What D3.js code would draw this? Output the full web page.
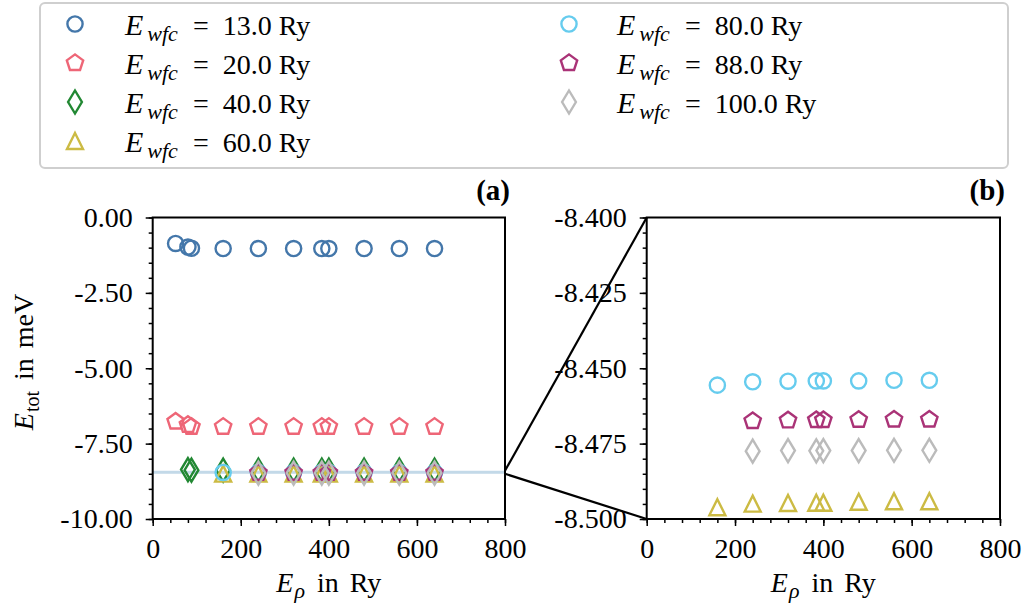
<!DOCTYPE html>
<html><head><meta charset="utf-8">
<script src="https://cdn.jsdelivr.net/npm/d3@7"></script>
<style>
body{margin:0;background:#fff}
svg{display:block}
text{font-family:"Liberation Serif","DejaVu Serif",serif;fill:#000}
</style>
</head><body>
<svg id="chart" width="1026" height="607"></svg>
<script>
// ---------------- data ----------------
const ewfcLabels = ["13.0","20.0","40.0","60.0","80.0","88.0","100.0"];
const seriesColors = ["#4477AA","#EE6677","#228833","#CCBB44","#66CCEE","#AA3377","#BBBBBB"];
const seriesMarkers = ["circle","pentagon","diamond","triangle","circle","pentagon","diamond"];

const x13  = [52,80,88,160,240,320,384,400,480,560,640];
const y13  = [-0.86,-0.98,-1.02,-1.03,-1.03,-1.03,-1.03,-1.03,-1.03,-1.03,-1.03];
const x20  = [52,80,88,160,240,320,384,400,480,560,640];
const y20  = [-6.77,-6.88,-6.94,-6.94,-6.94,-6.94,-6.94,-6.94,-6.94,-6.94,-6.94];
const x40  = [80,88,160,240,320,384,400,480,560,640];
const y40  = [-8.36,-8.38,-8.38,-8.38,-8.38,-8.38,-8.38,-8.38,-8.38,-8.38];
const x60  = [160,240,320,384,400,480,560,640];
const y60  = [-8.4961,-8.4949,-8.4947,-8.4946,-8.4946,-8.4943,-8.4941,-8.4941];
const x80  = [160,240,320,384,400,480,560,640];
const y80  = [-8.4556,-8.4545,-8.4543,-8.4542,-8.4542,-8.4542,-8.4540,-8.4540];
const x88  = [240,320,384,400,480,560,640];
const y88  = [-8.4675,-8.4673,-8.4672,-8.4672,-8.4671,-8.4670,-8.4670];
const x100 = [240,320,384,400,480,560,640];
const y100 = [-8.4775,-8.4773,-8.4774,-8.4773,-8.4773,-8.4772,-8.4772];

const seriesX = [x13,x20,x40,x60,x80,x88,x100];
const seriesY = [y13,y20,y40,y60,y80,y88,y100];

const xTicks = [0,200,400,600,800];
const yTicksA = [0,-2.5,-5,-7.5,-10];
const yTicksB = [-8.4,-8.425,-8.45,-8.475,-8.5];
const zoomRange = [-8.5,-8.4];

// ---------------- setup ----------------
const svg = d3.select("#chart");
const FS = 28;

function markerPath(type){
  if(type==="circle"){ const p=d3.path(); p.arc(0,0,7.6,0,2*Math.PI); p.closePath(); return p.toString(); }
  if(type==="pentagon"){ const R=8.6; const pts=d3.range(5).map(k=>{const a=(-90+72*k)*Math.PI/180;return [R*Math.cos(a),R*Math.sin(a)];}); return "M"+pts.map(p=>p.join(",")).join("L")+"Z"; }
  if(type==="triangle"){ const s=8; return `M0,${-s}L${s},${s}L${-s},${s}Z`; }
  if(type==="diamond"){ const h=11.5,w=6.9; return `M0,${-h}L${w},0L0,${h}L${-w},0Z`; }
}

const panels = [
  {x:d3.scaleLinear([0,800],[152.7,505]), y:d3.scaleLinear([-10,0],[519,217.5]), yt:yTicksA, fmt:d=>d.toFixed(2), minorY:d3.range(0,-10.0001,-0.5), label:"(a)"},
  {x:d3.scaleLinear([0,800],[646.7,1000]), y:d3.scaleLinear([-8.5,-8.4],[519,217.5]), yt:yTicksB, fmt:d=>d.toFixed(3), minorY:d3.range(-8.4,-8.50001,-0.005), label:"(b)"}
];
const minorX = d3.range(0,800.1,40);

panels.forEach((P,pi)=>{
  const g = svg.append("g");
  const [x0,x1]=P.x.range(), [yb,yt]=P.y.range();
  // inset band in panel (a)
  if(pi===0){
    g.append("rect").attr("x",x0).attr("width",x1-x0)
      .attr("y",P.y(zoomRange[1])).attr("height",P.y(zoomRange[0])-P.y(zoomRange[1]))
      .attr("fill","#c3d9e8");
  }
  // markers
  const clipId="clip"+pi;
  svg.append("clipPath").attr("id",clipId).append("rect").attr("x",x0).attr("y",yt).attr("width",x1-x0).attr("height",yb-yt);
  const mg = g.append("g").attr("clip-path",`url(#${clipId})`);
  seriesX.forEach((xs,si)=>{
    const pts = xs.map((xv,i)=>[xv,seriesY[si][i]]);
    mg.selectAll(null).data(pts).enter().append("path")
      .attr("d",markerPath(seriesMarkers[si]))
      .attr("transform",d=>`translate(${P.x(d[0])},${P.y(d[1])})`)
      .attr("fill","none").attr("stroke",seriesColors[si]).attr("stroke-width",2.4);
  });
  // axes
  const ax = g.append("g").attr("transform",`translate(0,${yb})`)
    .call(d3.axisBottom(P.x).tickValues(xTicks).tickSize(7).tickPadding(12).tickFormat(d3.format("d")));
  const axm = g.append("g").attr("transform",`translate(0,${yb})`)
    .call(d3.axisBottom(P.x).tickValues(minorX).tickSize(4).tickFormat(""));
  const ay = g.append("g").attr("transform",`translate(${x0},0)`)
    .call(d3.axisLeft(P.y).tickValues(P.yt).tickSize(7).tickPadding(13).tickFormat(P.fmt));
  const aym = g.append("g").attr("transform",`translate(${x0},0)`)
    .call(d3.axisLeft(P.y).tickValues(P.minorY).tickSize(4).tickFormat(""));
  [ax,axm,ay,aym].forEach(a=>{
    a.select(".domain").remove();
    a.selectAll(".tick line").attr("stroke","#000").attr("stroke-width",1.5);
    a.selectAll(".tick text").style("font-size",FS+"px").attr("fill","#000").style("font-family",'"Liberation Serif",serif');
  });
  // frame
  g.append("rect").attr("x",x0).attr("y",yt).attr("width",x1-x0).attr("height",yb-yt)
    .attr("fill","none").attr("stroke","#000").attr("stroke-width",2);
  // panel label
  g.append("text").attr("x",x1+5).attr("y",200).attr("text-anchor","end")
    .style("font-size","29px").style("font-weight","bold").text(P.label);
  // x label
  const xl = g.append("text").attr("x",(x0+x1)/2).attr("y",592).attr("text-anchor","middle").style("font-size",FS+"px");
  xl.append("tspan").style("font-style","italic").text("E");
  xl.append("tspan").style("font-style","italic").style("font-size","22px").attr("dy",6).attr("dx",1).text("ρ");
  xl.append("tspan").attr("dy",-6).attr("dx",12).text("in");
  xl.append("tspan").attr("dx",11).text("Ry");
});

// y label for panel (a)
{
  const yl = svg.append("text").attr("transform","translate(33,362) rotate(-90)").attr("text-anchor","middle").style("font-size",FS+"px");
  yl.append("tspan").style("font-style","italic").text("E");
  yl.append("tspan").style("font-size","20px").attr("dy",6).attr("dx",1).text("tot");
  yl.append("tspan").attr("dy",-6).attr("dx",11).text("in");
  yl.append("tspan").attr("dx",10).text("meV");
}

// connectors (inset zoom lines)
{
  const A=panels[0], B=panels[1];
  [zoomRange[1],zoomRange[0]].forEach(v=>{
    svg.append("line").attr("x1",A.x(800)).attr("y1",A.y(v)).attr("x2",B.x(0)).attr("y2",B.y(v))
      .attr("stroke","#000").attr("stroke-width",2.2);
  });
}

// legend
{
  const lg = svg.append("g");
  lg.append("rect").attr("x",40).attr("y",3).attr("width",968).attr("height",165).attr("rx",5)
    .attr("fill","#fff").attr("stroke","#cfcfcf").attr("stroke-width",2);
  const colMarkX=[75,569], colTextX=[125,617];
  ewfcLabels.forEach((lab,i)=>{
    const col = i<4?0:1, row = i<4?i:i-4;
    const base = 35 + row*39;
    lg.append("path").attr("d",markerPath(seriesMarkers[i]))
      .attr("transform",`translate(${colMarkX[col]},${base-11})`)
      .attr("fill","none").attr("stroke",seriesColors[i]).attr("stroke-width",2.4);
    const t = lg.append("text").attr("x",colTextX[col]).attr("y",base).style("font-size",FS+"px");
    t.append("tspan").style("font-size","30px").style("font-style","italic").text("E");
    t.append("tspan").style("font-style","italic").style("font-size","22px").attr("dy",6).attr("dx",4).text("wfc");
    t.append("tspan").attr("dy",-6).attr("dx",15).text("=");
    t.append("tspan").attr("dx",14).text(lab);
    t.append("tspan").attr("dx",7).text("Ry");
  });
}
</script>
</body></html>
